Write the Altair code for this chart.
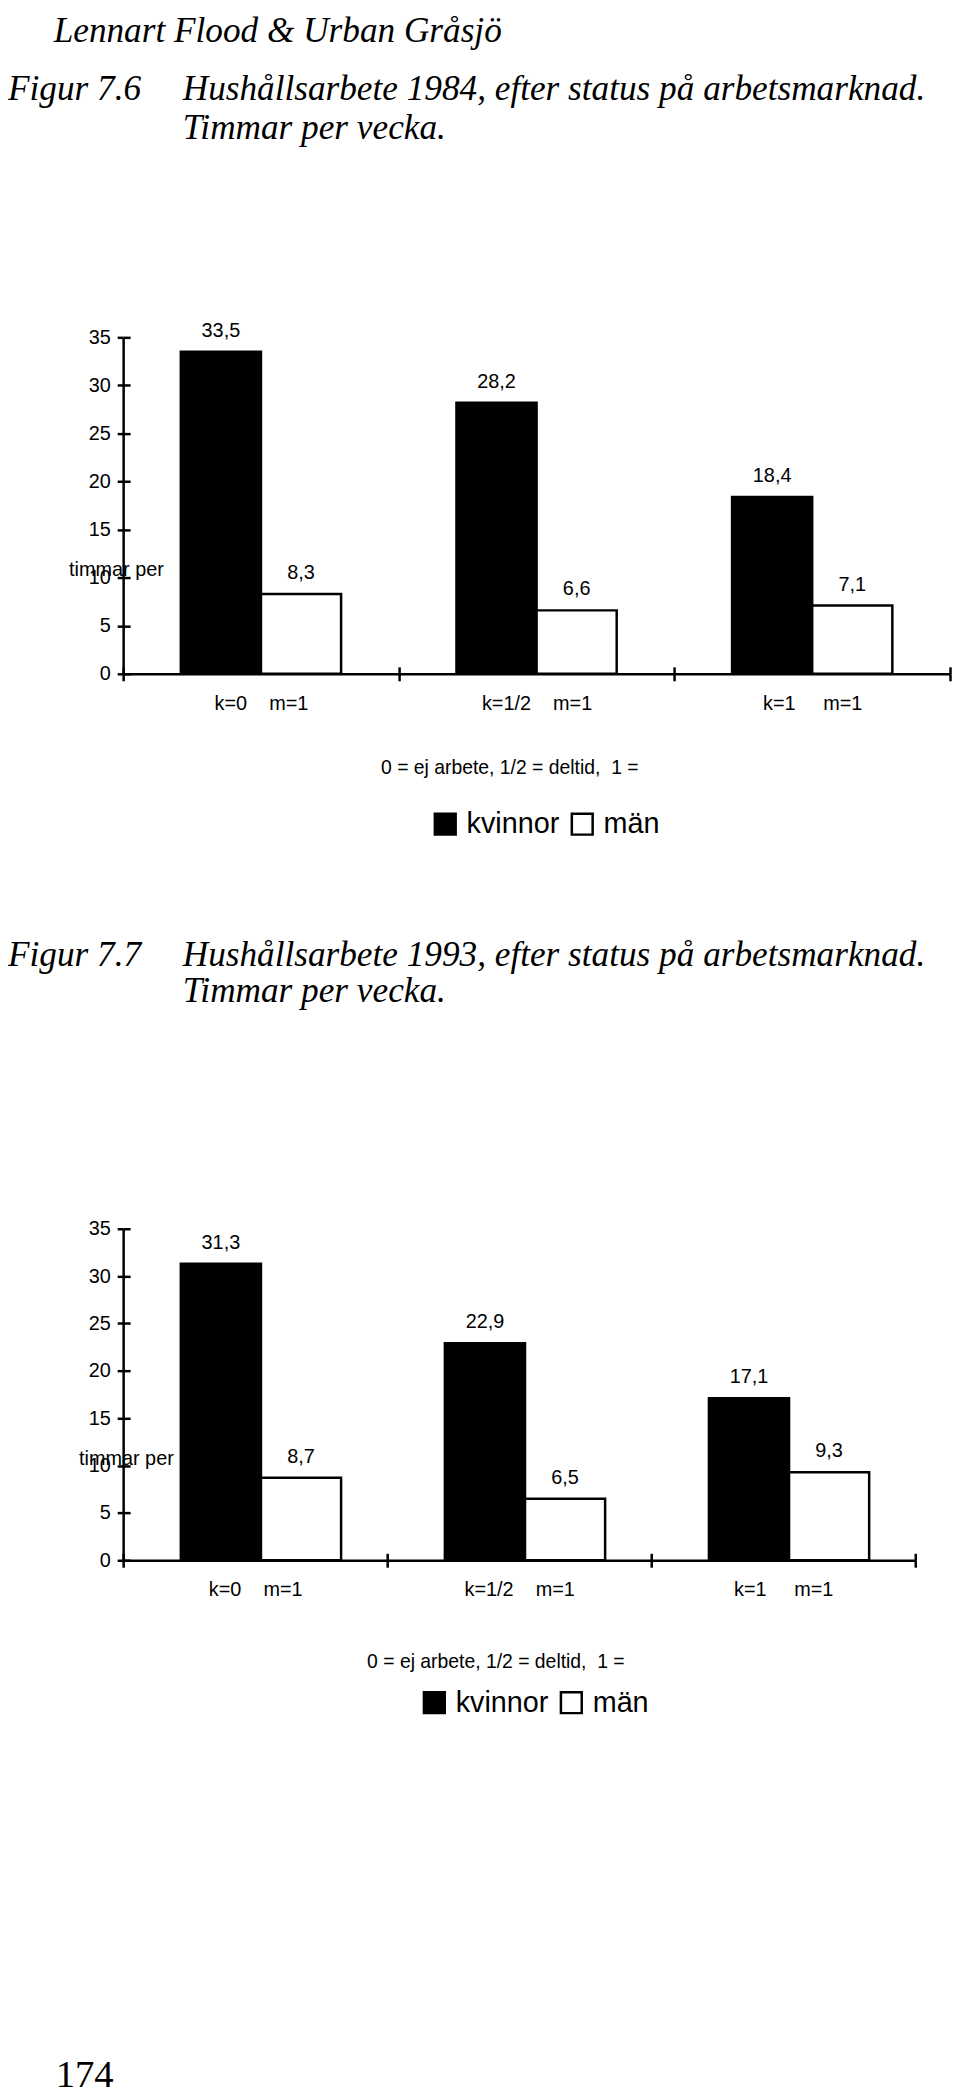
import altair as alt
import pandas as pd

NB = "\u00a0"
kategorier = ["k=0" + NB * 4 + "m=1", "k=1/2" + NB * 4 + "m=1", "k=1" + NB * 5 + "m=1"]
kon = ["kvinnor", "män"]
kvinnor_1984 = [33.5, 28.2, 18.4]
man_1984 = [8.3, 6.6, 7.1]
kvinnor_1993 = [31.3, 22.9, 17.1]
man_1993 = [8.7, 6.5, 9.3]
y_ticks = [0, 5, 10, 15, 20, 25, 30, 35]

SANS = "Liberation Sans"
SERIF = "Liberation Serif"
XTITLE = "0 = ej arbete, 1/2 = deltid," + NB * 2 + "1 ="


def frame(kv, ma):
    rows = []
    for c, a, b in zip(kategorier, kv, ma):
        for k, v in zip(kon, (a, b)):
            rows.append({"kat": c, "kon": k, "v": v, "lab": f"{v:.1f}".replace(".", ",")})
    return pd.DataFrame(rows)


def txt(s, x, y, size, font, style="normal", align="left"):
    return alt.Chart(pd.DataFrame({"t": [s]})).mark_text(
        font=font, fontSize=size, fontStyle=style, align=align, baseline="middle", color="black"
    ).encode(text="t:N", x=alt.value(x), y=alt.value(y))


def figur(df, w, h, xt_x, xt_y, yt_x, yt_y, leg_x, leg_y, texts):
    base = alt.Chart(df)
    xscale = alt.Scale(domain=kategorier, paddingInner=0, paddingOuter=0)
    yscale = alt.Scale(domain=[0, 35], nice=False, zero=True)
    xoff = alt.XOffset("kon:N", sort=kon, scale=alt.Scale(paddingOuter=0.72, paddingInner=0))

    x_main = alt.X(
        "kat:N", sort=kategorier, scale=xscale,
        axis=alt.Axis(
            title=XTITLE, titleX=xt_x, titleY=xt_y, titleAlign="center", titleBaseline="middle",
            titleFontSize=19.5, titleFontWeight="normal",
            labelAngle=0, labelFontSize=20, labelPadding=13,
            tickSize=7, tickWidth=2.5, domainWidth=2.5, tickBand="extent",
        ),
    )
    y_main = alt.Y(
        "v:Q", scale=yscale,
        axis=alt.Axis(
            values=y_ticks, grid=False, title="timmar per", titleAngle=0,
            titleX=yt_x, titleY=yt_y, titleAlign="left", titleBaseline="middle",
            titleFontSize=20, titleFontWeight="normal",
            labelFontSize=20, labelPadding=7, tickSize=6, tickWidth=2.5, domainWidth=2.5,
        ),
    )
    # inner halves of the crossing tick marks
    x_inner = alt.X(
        "kat:N", sort=kategorier, scale=xscale,
        axis=alt.Axis(orient="bottom", offset=-7, tickSize=7, tickWidth=2.5, domain=False,
                      labels=False, title=None, tickBand="extent"),
    )
    y_inner = alt.Y(
        "v:Q", scale=yscale,
        axis=alt.Axis(orient="left", offset=-7, values=y_ticks, grid=False, tickSize=7,
                      tickWidth=2.5, domain=False, labels=False, title=None),
    )

    bars = base.mark_bar(stroke="black", strokeWidth=2.5).encode(
        x=x_main, xOffset=xoff, y=y_main,
        fill=alt.Fill(
            "kon:N",
            scale=alt.Scale(domain=kon, range=["#000000", "#ffffff"]),
            legend=alt.Legend(
                orient="none", legendX=leg_x, legendY=leg_y, direction="horizontal",
                title=None, symbolType="square", symbolSize=440,
                symbolStrokeColor="black", symbolStrokeWidth=2.5,
                labelFontSize=29, labelFont=SANS, labelColor="black",
                labelOffset=7, columnPadding=7,
            ),
        ),
    )
    labels = base.mark_text(baseline="middle", dy=-21, fontSize=20, font=SANS, color="black").encode(
        x=x_inner, xOffset=xoff, y=y_inner, text="lab:N"
    )
    return (
        alt.layer(bars, labels, *texts)
        .resolve_axis(x="independent", y="independent")
        .properties(width=w, height=h)
    )


fig1 = figur(
    frame(kvinnor_1984, man_1984), 833, 339, 389, 94, -55, 234, 310, 476,
    [
        txt("Lennart Flood & Urban Gråsjö", -70, -309, 35.5, SERIF, "italic"),
        txt("Figur 7.6", -116, -250, 35.5, SERIF, "italic"),
        txt("Hushållsarbete 1984, efter status på arbetsmarknad.", 60, -250, 35.5, SERIF, "italic"),
        txt("Timmar per vecka.", 60, -211, 35.5, SERIF, "italic"),
    ],
)
fig2 = figur(
    frame(kvinnor_1993, man_1993), 798, 334, 375, 102, -45, 232, 299, 463,
    [
        txt("Figur 7.7", -116, -276, 35.5, SERIF, "italic"),
        txt("Hushållsarbete 1993, efter status på arbetsmarknad.", 60, -276, 35.5, SERIF, "italic"),
        txt("Timmar per vecka.", 60, -239, 35.5, SERIF, "italic"),
        txt("174", -68, 853, 39, SERIF),
    ],
)

chart = (
    alt.concat(fig1, fig2, columns=1, spacing=99)
    .resolve_scale(fill="independent")
    .resolve_legend(fill="independent")
    .configure(padding={"top": -2, "left": 0, "right": 0, "bottom": 0}, background="white")
    .configure_view(stroke=None)
    .configure_axis(
        domainColor="black", tickColor="black", labelColor="black", titleColor="black",
        labelFont=SANS, titleFont=SANS,
    )
)
chart.save("out.html", embed_options={"renderer": "svg", "actions": False})
